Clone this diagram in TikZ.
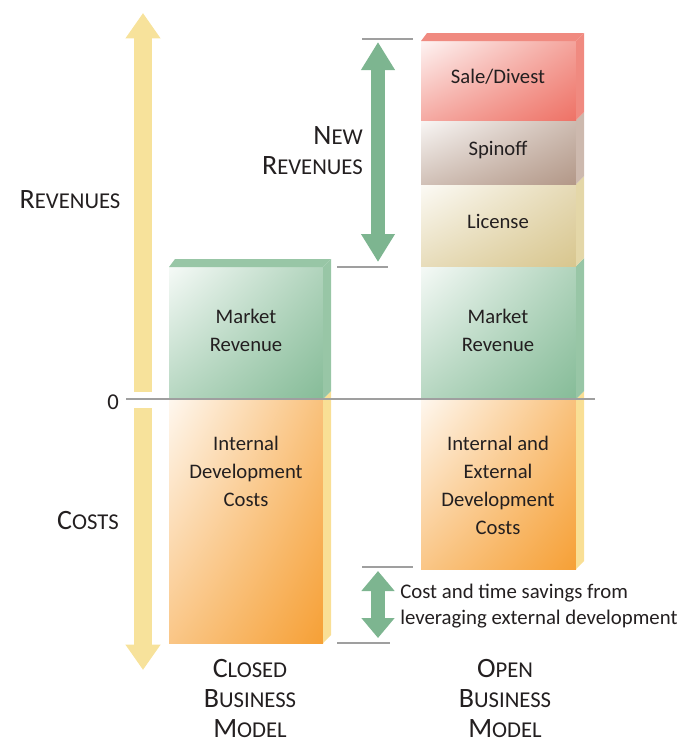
\documentclass[tikz,border=0pt]{standalone}
\usepackage{fontspec}
\setmainfont{Carlito}
\usepackage{xcolor}
\usetikzlibrary{arrows.meta,positioning,calc,shadings}

\definecolor{revyellow}{HTML}{F7E29B}
\definecolor{newgreen}{HTML}{7DB590}
\definecolor{mktgreen}{HTML}{86BC98}
\definecolor{mktedge}{HTML}{98C6A6}
\definecolor{costorange}{HTML}{F6A036}
\definecolor{costedge}{HTML}{F9DF95}
\definecolor{salered}{HTML}{EE7266}
\definecolor{saleedge}{HTML}{F08A80}
\definecolor{spinbrown}{HTML}{B39888}
\definecolor{spinedge}{HTML}{CDB9AE}
\definecolor{licbeige}{HTML}{D8C68E}
\definecolor{licedge}{HTML}{E4D7A8}
\definecolor{inkgray}{HTML}{231F20}

% front face + right bevel: x0,y0,x1,y1,face,bevel
\newcommand{\tilebox}[6]{%
  \shade[upper left=#5!8, lower right=#5, upper right=#5!65, lower left=#5!60]
    (#1,#2) rectangle (#3,#4);
  \fill[#6] (#3,#2) -- ++(8,-8) -- (#3+8,#4-8) -- (#3,#4) -- cycle;}
% top bevel: x0,y0,x1,colour
\newcommand{\tiletop}[4]{%
  \fill[#4] (#1,#2) -- ++(6,-8) -- (#3+8,#2-8) -- (#3,#2) -- cycle;}
% small caps look
\newcommand{\capsc}[2]{{\fontsize{21}{22.5}\selectfont #1}{\fontsize{17}{22.5}\selectfont #2}}

\begin{document}
\begin{tikzpicture}[
    x=0.75pt, y=-0.75pt,
    txt/.style = {align=center, inner sep=0pt, text=inkgray,
                  font=\fontsize{15.5}{21}\selectfont},
    head/.style = {align=center, inner sep=0pt, text=inkgray,
                  font=\fontsize{17}{22.5}\selectfont},
    tick/.style = {draw=gray!75, line width=0.9pt},
    bigarrow/.style = {line width=13.5pt, revyellow,
                  -{Triangle[width=25pt,length=19pt]}},
    newarrow/.style = {line width=10.5pt, newgreen,
                  {Triangle[width=24pt,length=21pt]}-{Triangle[width=24pt,length=21pt]}},
    savearrow/.style = {line width=10pt, newgreen,
                  {Triangle[width=24pt,length=15pt]}-{Triangle[width=24pt,length=15pt]}}
  ]
    \useasboundingbox (0,0) rectangle (681,743);

    % closed business model
    \tilebox{169}{399}{323}{643}{costorange}{costedge}
    \tilebox{169}{267}{323}{399}{mktgreen}{mktedge}
    \tiletop{169}{267}{323}{mktedge}

    % open business model
    \tilebox{421}{399}{576}{569}{costorange}{costedge}
    \tilebox{421}{266}{576}{399}{mktgreen}{mktedge}
    \tilebox{421}{184}{576}{266}{licbeige}{licedge}
    \tilebox{421}{120}{576}{184}{spinbrown}{spinedge}
    \tilebox{421}{41}{576}{120}{salered}{saleedge}
    \tiletop{421}{41}{576}{saleedge}

    % zero line
    \coordinate (zl) at (126,399);
    \coordinate (zr) at (595,399);
    \draw[tick] (zl) -- (zr);
    \node[head] (zero) at (113,402) {0};

    % revenue / cost axis
    \coordinate (revbase) at (143,392);
    \coordinate (revtip)  at (143,13);
    \coordinate (costbase) at (143,408);
    \coordinate (costtip)  at (143,670);
    \draw[bigarrow] (revbase) -- (revtip);
    \draw[bigarrow] (costbase) -- (costtip);
    \node[head] (revenues) at (70,200) {\capsc{R}{EVENUES}};
    \node[head] (costs) at (88,521) {\capsc{C}{OSTS}};

    % new revenues
    \coordinate (nrtop) at (378,42);
    \coordinate (nrbot) at (378,262);
    \draw[tick] (362,39) -- (413,39);
    \draw[tick] (337,267) -- (388,267);
    \draw[newarrow] (nrbot) -- (nrtop);
    \node[head, anchor=east, align=right] (newrev) at (363,151)
      {\capsc{N}{EW}\\\capsc{R}{EVENUES}};

    % savings
    \coordinate (svtop) at (378,571);
    \coordinate (svbot) at (378,638);
    \draw[tick] (362,567) -- (413,567);
    \draw[tick] (337,643) -- (390,643);
    \draw[savearrow] (svbot) -- (svtop);
    \node[txt, anchor=west, align=left, font=\fontsize{15.6}{20}\selectfont]
      (savings) at (400,606) {Cost and time savings from\\leveraging external development};

    % tile texts
    \node[txt] (cmkt)  at (246,330) {Market\\Revenue};
    \node[txt] (ccost) at (246,471) {Internal\\Development\\Costs};
    \node[txt] (sale)  at (498,77)  {Sale/Divest};
    \node[txt] (spin)  at (498,150) {Spinoff};
    \node[txt] (lic)   at (498,221) {License};
    \node[txt] (omkt)  at (498,330) {Market\\Revenue};
    \node[txt] (ocost) at (498,485) {Internal and\\External\\Development\\Costs};

    % model captions
    \node[head] (closed) at (250,698)
      {\capsc{C}{LOSED}\\\capsc{B}{USINESS}\\\capsc{M}{ODEL}};
    \node[head] (open) at (505,698)
      {\capsc{O}{PEN}\\\capsc{B}{USINESS}\\\capsc{M}{ODEL}};
  \end{tikzpicture}
\end{document}
